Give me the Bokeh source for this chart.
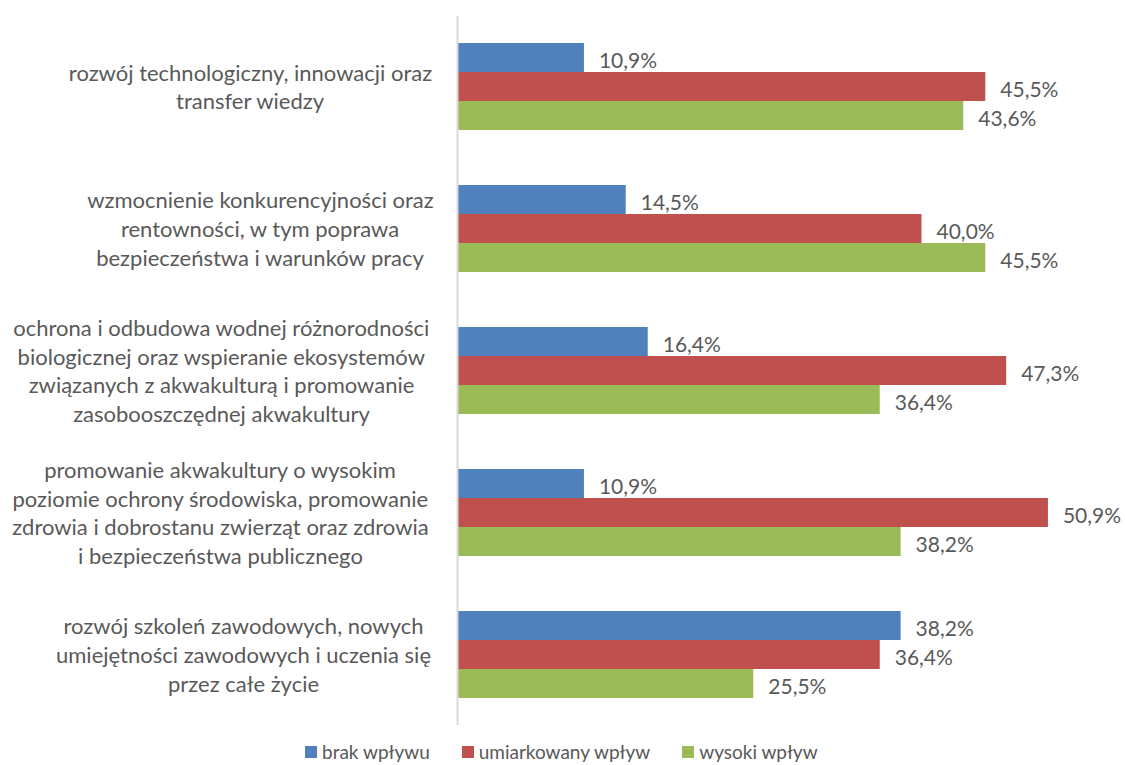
from bokeh.plotting import figure
from bokeh.layouts import column
from bokeh.models import ColumnDataSource, FactorRange, Range1d, Span, Legend, LegendItem
from bokeh.transform import dodge
from bokeh.core.properties import value
from bokeh.embed import file_html
from bokeh.resources import INLINE

categories = [
    "rozwój technologiczny, innowacji oraz\ntransfer wiedzy",
    "wzmocnienie konkurencyjności oraz\nrentowności, w tym poprawa\nbezpieczeństwa i warunków pracy",
    "ochrona i odbudowa wodnej różnorodności\nbiologicznej oraz wspieranie ekosystemów\nzwiązanych z akwakulturą i promowanie\nzasobooszczędnej akwakultury",
    "promowanie akwakultury o wysokim\npoziomie ochrony środowiska, promowanie\nzdrowia i dobrostanu zwierząt oraz zdrowia\ni bezpieczeństwa publicznego",
    "rozwój szkoleń zawodowych, nowych\numiejętności zawodowych i uczenia się\nprzez całe życie",
]
brak_wplywu = [10.9, 14.5, 16.4, 10.9, 38.2]
umiarkowany_wplyw = [45.5, 40.0, 47.3, 50.9, 36.4]
wysoki_wplyw = [43.6, 45.5, 36.4, 38.2, 25.5]
series_names = ["brak wpływu", "umiarkowany wpływ", "wysoki wpływ"]
colors = ["#4F81BD", "#C0504D", "#9BBB59"]
# horizontal screen offsets (px) of each category label block centre from the axis
label_offsets = [-207, -197, -236, -237, -214]

FONT = "Lato"
TXT = "#595959"
W = 1124
H_MAIN = 725
PX_PER_PCT = 11.6
ZERO_PX = 457

p = figure(width=W, height=H_MAIN, output_backend="svg", toolbar_location=None,
           x_range=Range1d(-ZERO_PX / PX_PER_PCT, (W - ZERO_PX) / PX_PER_PCT),
           y_range=FactorRange(factors=list(reversed(categories))),
           x_axis_type=None, y_axis_type=None,
           min_border_left=0, min_border_right=0, min_border_top=15, min_border_bottom=0)
p.outline_line_color = None
p.grid.visible = False
p.background_fill_color = "white"
p.border_fill_color = "white"

def fmt(v):
    return f"{v:.1f}".replace(".", ",") + "%"

bar_h = 0.204
offsets = [bar_h, 0.0, -bar_h]
renderers = []
for vals, name, col, off in zip([brak_wplywu, umiarkowany_wplyw, wysoki_wplyw], series_names, colors, offsets):
    src = ColumnDataSource(dict(cat=categories, val=vals, lbl=[fmt(v) for v in vals]))
    r = p.hbar(y=dodge("cat", off, range=p.y_range), left=0, right="val", height=bar_h,
               source=src, fill_color=col, line_color=None)
    renderers.append(r)
    p.text(x="val", y=dodge("cat", off, range=p.y_range), text="lbl", source=src,
           x_offset=15, y_offset=2, text_align="left", text_baseline="middle",
           text_font=value(FONT), text_font_size="21px", text_color=TXT)

lab_src = ColumnDataSource(dict(cat=categories, x=[0] * len(categories), xo=label_offsets))
p.text(x="x", y="cat", text="cat", x_offset="xo", source=lab_src,
       text_align="center", text_baseline="middle", line_height=1.07,
       text_font=value(FONT), text_font_size="22px", text_color=TXT)

p.add_layout(Span(location=0, dimension="height", line_color="#D9D9D9", line_width=2))

# legend strip below the chart (zero-size proxy bars only carry the legend swatches)
pl = figure(width=W, height=40, output_backend="svg", toolbar_location=None,
            x_range=Range1d(0, 1), y_range=Range1d(0, 1),
            x_axis_type=None, y_axis_type=None,
            min_border_left=0, min_border_right=0, min_border_top=0, min_border_bottom=0)
pl.outline_line_color = None
pl.grid.visible = False
leg_renderers = []
for name, col in zip(series_names, colors):
    leg_renderers.append(pl.hbar(y=[0], left=[0], right=[0], height=0, fill_color=col, line_color=None))
legend = Legend(items=[LegendItem(label=n, renderers=[r]) for n, r in zip(series_names, leg_renderers)],
                orientation="horizontal", location=(303, 2),
                border_line_color=None, background_fill_alpha=0,
                label_text_font=FONT, label_text_font_size="19px", label_text_color=TXT,
                glyph_width=15, glyph_height=15, label_standoff=4, spacing=30,
                padding=0, margin=0)
pl.add_layout(legend, "center")

open("out.html", "w").write(file_html(column(p, pl, spacing=0), INLINE))
